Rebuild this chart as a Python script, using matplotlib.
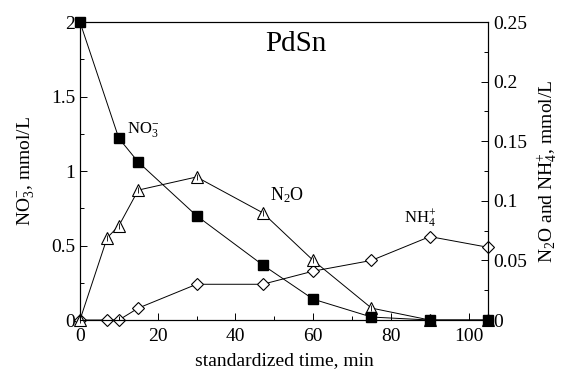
import matplotlib
matplotlib.use("Agg")
import matplotlib.pyplot as plt
from matplotlib.ticker import MultipleLocator

plt.rcParams['font.family'] = ['Liberation Serif', 'DejaVu Serif']
plt.rcParams['mathtext.fontset'] = 'custom'
plt.rcParams['mathtext.rm'] = 'Liberation Serif'
plt.rcParams['mathtext.it'] = 'Liberation Serif:italic'

t_no3 = [0, 10, 15, 30, 47, 60, 75, 90, 105]
no3 = [2.0, 1.22, 1.06, 0.70, 0.37, 0.14, 0.02, 0.0, 0.0]

t_n2o = [0, 7, 10, 15, 30, 47, 60, 75, 90, 105]
n2o = [0.0, 0.069, 0.079, 0.109, 0.12, 0.090, 0.050, 0.010, 0.0, 0.0]

t_nh4 = [0, 7, 10, 15, 30, 47, 60, 75, 90, 105]
nh4 = [0.0, 0.0, 0.0, 0.010, 0.030, 0.030, 0.041, 0.050, 0.070, 0.061]

fig = plt.figure(figsize=(5.63, 3.73), dpi=100)
ax = fig.add_axes([0.142, 0.142, 0.725, 0.799])
ax2 = ax.twinx()

lw = 0.7
ax2.plot(t_nh4, nh4, color='black', lw=lw, marker='D', ms=6.5, mfc='white', mec='black', mew=0.8, zorder=2, clip_on=False)
ax2.plot(t_n2o, n2o, color='black', lw=lw, marker='^', ms=8, mfc='white', mec='black', mew=0.8, zorder=3, clip_on=False)
ax2.plot(t_n2o, n2o, ls='none', marker='|', ms=5, mec='black', mew=0.6, zorder=4, clip_on=False)
ax.plot(t_no3, no3, color='black', lw=lw, marker='s', ms=7, mfc='black', mec='black', zorder=5, clip_on=False)
ax.set_zorder(ax2.get_zorder() + 1)
ax.patch.set_visible(False)

ax.set_xlim(0, 105)
ax.set_ylim(0, 2)
ax2.set_ylim(0, 0.25)

ax.xaxis.set_major_locator(MultipleLocator(20))
ax.xaxis.set_minor_locator(MultipleLocator(10))
ax.yaxis.set_major_locator(MultipleLocator(0.5))
ax.yaxis.set_minor_locator(MultipleLocator(0.25))
ax2.yaxis.set_major_locator(MultipleLocator(0.05))
ax2.yaxis.set_minor_locator(MultipleLocator(0.025))

for a in (ax, ax2):
    a.tick_params(which='both', direction='in', labelsize=14, width=0.7)
    a.tick_params(which='major', length=5)
    a.tick_params(which='minor', length=3)
    for s in a.spines.values():
        s.set_linewidth(0.8)
ax.tick_params(axis='x', pad=6)

ax.set_yticks([0, 0.5, 1, 1.5, 2])
ax.set_yticklabels(['0', '0.5', '1', '1.5', '2'])
ax2.set_yticks([0, 0.05, 0.1, 0.15, 0.2, 0.25])
ax2.set_yticklabels(['0', '0.05', '0.1', '0.15', '0.2', '0.25'])

ax.set_xlabel('standardized time, min', fontsize=14, labelpad=5)
ax.set_ylabel(r'NO$_3^{-}$, mmol/L', fontsize=14, labelpad=10)
ax2.set_ylabel(r'N$_2$O and NH$_4^{+}$, mmol/L', fontsize=14, labelpad=6)

ax.text(55.6, 1.85, 'PdSn', fontsize=21, ha='center', va='center')
ax.text(12, 1.28, r'NO$_3^{-}$', fontsize=12, ha='left', va='center')
ax.text(53.3, 0.84, r'N$_2$O', fontsize=13, ha='center', va='center')
ax.text(87.5, 0.68, r'NH$_4^{+}$', fontsize=12, ha='center', va='center')

fig.savefig('out.png', dpi=100)
